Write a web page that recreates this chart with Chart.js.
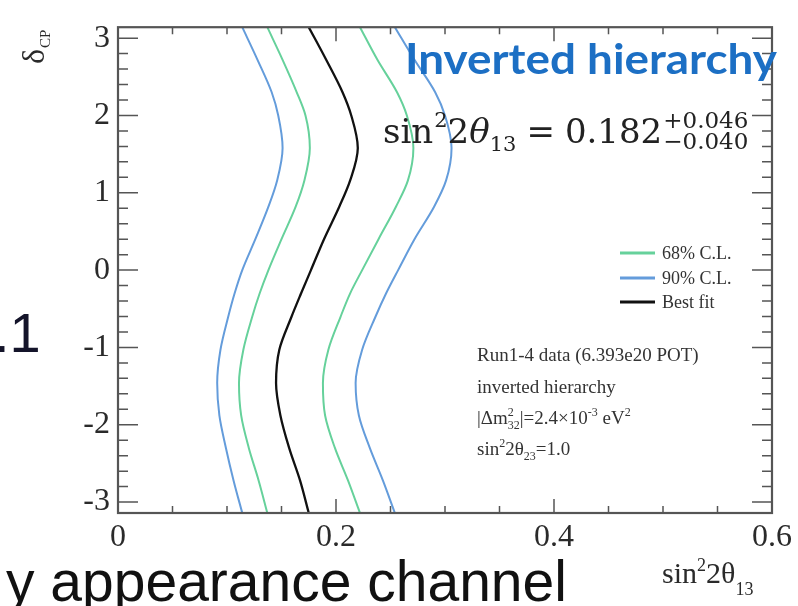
<!DOCTYPE html>
<html>
<head>
<meta charset="utf-8">
<script src="https://cdn.jsdelivr.net/npm/chart.js@4.4.0/dist/chart.umd.min.js"></script>
<style>
  html, body { margin: 0; padding: 0; background: #fff; overflow: hidden; }
  #wrap { position: relative; width: 798px; height: 606px; }
</style>
</head>
<body>
<div id="wrap"><canvas id="c" width="798" height="606"></canvas></div>
<script>
// delta_CP grid (radians) shared by all contour branches
const deltaCP  = [-3.1416, -2.72, -2.30, -1.88, -1.46, -1.03, -0.61, -0.30, 0, 0.40, 0.82, 1.16, 1.58, 2.00, 2.30, 2.72, 3.1416];
// sin^2(2theta13) along each contour
const cl90Low  = [0.114, 0.106, 0.099, 0.093, 0.091, 0.094, 0.101, 0.107, 0.114, 0.126, 0.138, 0.146, 0.151, 0.147, 0.141, 0.128, 0.114];
const cl68Low  = [0.137, 0.129, 0.120, 0.113, 0.111, 0.115, 0.123, 0.130, 0.138, 0.150, 0.163, 0.171, 0.176, 0.172, 0.164, 0.151, 0.137];
const bestFit  = [0.175, 0.167, 0.157, 0.149, 0.145, 0.148, 0.159, 0.168, 0.177, 0.189, 0.203, 0.213, 0.220, 0.214, 0.206, 0.191, 0.175];
const cl68High = [0.222, 0.211, 0.199, 0.190, 0.188, 0.193, 0.204, 0.213, 0.224, 0.239, 0.255, 0.266, 0.271, 0.265, 0.256, 0.238, 0.222];
const cl90High = [0.254, 0.243, 0.231, 0.221, 0.218, 0.224, 0.236, 0.246, 0.257, 0.272, 0.290, 0.301, 0.306, 0.300, 0.291, 0.272, 0.254];

const xTickValues = [0, 0.2, 0.4, 0.6];
const yTickValues = [-3, -2, -1, 0, 1, 2, 3];
const seriesLabels = ['68% C.L.', '90% C.L.', 'Best fit'];
const seriesColors = ['#66d19b', '#649cdb', '#111111'];

const SERIF = '"Liberation Serif", "Times New Roman", serif';
const SANS = '"Liberation Sans", Arial, sans-serif';
const MATH = '"DejaVu Serif", serif';

function branch(xs) {
  return xs.map((v, i) => ({ x: v, y: deltaCP[i] }));
}

function contour(label, xs, color, width) {
  return {
    label: label,
    data: branch(xs),
    showLine: true,
    borderColor: color,
    borderWidth: width,
    pointRadius: 0,
    cubicInterpolationMode: 'monotone',
    fill: false
  };
}

// Draws a run of text pieces one after another (with super/subscript offsets)
function drawSeq(ctx, x, y, parts, color) {
  ctx.fillStyle = color;
  ctx.textAlign = 'left';
  ctx.textBaseline = 'alphabetic';
  let cx = x;
  parts.forEach(p => {
    ctx.font = p.font;
    cx += (p.gap || 0);
    ctx.fillText(p.t, cx, y + (p.dy || 0));
    if (!p.stay) cx += ctx.measureText(p.t).width;
  });
  return cx;
}

const decor = {
  id: 'decor',
  afterDraw(chart) {
    const { ctx, chartArea: a } = chart;
    const xs = chart.scales.x, ys = chart.scales.y;
    ctx.save();

    // minor / major tick marks on all four sides, pointing inward
    ctx.strokeStyle = '#555';
    ctx.lineWidth = 1.5;
    ctx.beginPath();
    const xMinorStep = 0.05;
    for (let i = 0; i <= 12; i++) {
      const px = xs.getPixelForValue(i * xMinorStep);
      const L = (i % 4 === 0) ? 14 : 7;
      ctx.moveTo(px, a.bottom); ctx.lineTo(px, a.bottom - L);
      ctx.moveTo(px, a.top);    ctx.lineTo(px, a.top + L);
    }
    const yMinorStep = 0.2;
    for (let i = -15; i <= 15; i++) {
      const py = ys.getPixelForValue(i * yMinorStep);
      const L = (i % 5 === 0) ? 20 : 10;
      ctx.moveTo(a.left, py);  ctx.lineTo(a.left + L, py);
      ctx.moveTo(a.right, py); ctx.lineTo(a.right - L, py);
    }
    ctx.stroke();

    // frame
    ctx.lineWidth = 2.2;
    ctx.strokeRect(a.left, a.top, a.right - a.left, a.bottom - a.top);

    // legend
    const legY = [253, 278, 302];
    seriesLabels.forEach((lab, i) => {
      ctx.strokeStyle = seriesColors[i];
      ctx.lineWidth = 3;
      ctx.beginPath();
      ctx.moveTo(620, legY[i]); ctx.lineTo(655, legY[i]);
      ctx.stroke();
      ctx.font = '18px ' + SERIF;
      ctx.fillStyle = '#333';
      ctx.textAlign = 'left';
      ctx.textBaseline = 'middle';
      ctx.fillText(lab, 662, legY[i] + 1);
    });

    // run information box
    const f = '19px ' + SERIF, fs = '12px ' + SERIF;
    drawSeq(ctx, 477, 361, [{ t: 'Run1-4 data (6.393e20 POT)', font: f }], '#333');
    drawSeq(ctx, 477, 393, [{ t: 'inverted hierarchy', font: f }], '#333');
    drawSeq(ctx, 477, 424, [
      { t: '|\u0394m', font: f },
      { t: '2', font: fs, dy: -8, stay: true },
      { t: '32', font: fs, dy: 5 },
      { t: '|=2.4\u00d710', font: f },
      { t: '-3', font: fs, dy: -8 },
      { t: ' eV', font: f },
      { t: '2', font: fs, dy: -8 }
    ], '#333');
    drawSeq(ctx, 477, 455, [
      { t: 'sin', font: f },
      { t: '2', font: fs, dy: -8 },
      { t: '2\u03b8', font: f },
      { t: '23', font: fs, dy: 5 },
      { t: '=1.0', font: f }
    ], '#333');

    // hierarchy heading, fitted to its box width
    ctx.font = 'bold 42px Lato, "Open Sans", sans-serif';
    const hw = ctx.measureText('Inverted hierarchy').width;
    ctx.save();
    ctx.translate(405, 74);
    ctx.scale(372 / hw, 1);
    ctx.fillStyle = '#1c6fc4';
    ctx.textAlign = 'left';
    ctx.textBaseline = 'alphabetic';
    ctx.fillText('Inverted hierarchy', 0, 0);
    ctx.restore();

    // fitted value with asymmetric errors
    const M = '34px ' + MATH, Ms = '21px ' + MATH, Mi = 'italic 34px ' + MATH;
    const endX = drawSeq(ctx, 383, 143, [
      { t: 'sin', font: M },
      { t: '2', font: Ms, dy: -16, gap: 1 },
      { t: '2', font: M },
      { t: '\u03b8', font: Mi },
      { t: '13', font: Ms, dy: 8 },
      { t: '=', font: M, gap: 10 },
      { t: '0.182', font: M, gap: 10 }
    ], '#222');
    drawSeq(ctx, endX + 1, 128, [{ t: '+0.046', font: '23px ' + MATH }], '#222');
    drawSeq(ctx, endX + 1, 149, [{ t: '\u22120.040', font: '23px ' + MATH }], '#222');

    // axis titles
    drawSeq(ctx, 662, 583, [
      { t: 'sin', font: '30px ' + SERIF },
      { t: '2', font: '18px ' + SERIF, dy: -12 },
      { t: '2\u03b8', font: '30px ' + SERIF },
      { t: '13', font: '18px ' + SERIF, dy: 12 }
    ], '#2a2a2a');
    ctx.save();
    ctx.translate(44, 64);
    ctx.rotate(-Math.PI / 2);
    drawSeq(ctx, 0, 0, [
      { t: '\u03b4', font: '32px ' + SERIF },
      { t: 'CP', font: '15px ' + SERIF, dy: 6, gap: 1 }
    ], '#2a2a2a');
    ctx.restore();

    // surrounding slide text
    ctx.fillStyle = '#14142a';
    ctx.font = '56px ' + SANS;
    ctx.textAlign = 'left';
    ctx.textBaseline = 'alphabetic';
    ctx.fillText('.1', -6, 352);
    ctx.fillStyle = '#111';
    ctx.font = '57px ' + SANS;
    ctx.fillText('y appearance channel', 6, 601);

    ctx.restore();
  }
};

new Chart(document.getElementById('c'), {
  type: 'scatter',
  data: {
    datasets: [
      contour(seriesLabels[1], cl90Low,  seriesColors[1], 2),
      contour(seriesLabels[1], cl90High, seriesColors[1], 2),
      contour(seriesLabels[0], cl68Low,  seriesColors[0], 2),
      contour(seriesLabels[0], cl68High, seriesColors[0], 2),
      contour(seriesLabels[2], bestFit,  seriesColors[2], 2.3)
    ]
  },
  options: {
    indexAxis: 'y',
    responsive: false,
    animation: false,
    devicePixelRatio: 1,
    layout: { padding: { top: 17, right: 26, left: 0, bottom: 0 } },
    plugins: { legend: { display: false }, tooltip: { enabled: false } },
    scales: {
      x: {
        type: 'linear',
        position: 'bottom',
        min: 0, max: 0.6,
        afterBuildTicks: s => { s.ticks = xTickValues.map(v => ({ value: v })); },
        afterFit: s => { s.height = 93; },
        grid: { display: false, drawTicks: false },
        border: { display: false },
        ticks: { padding: 5, color: '#2a2a2a', font: { family: SERIF, size: 32 } }
      },
      y: {
        type: 'linear',
        position: 'left',
        min: -Math.PI, max: Math.PI,
        afterBuildTicks: s => { s.ticks = yTickValues.map(v => ({ value: v })); },
        afterFit: s => { s.width = 118; },
        grid: { display: false, drawTicks: false },
        border: { display: false },
        ticks: { padding: 8, color: '#2a2a2a', font: { family: SERIF, size: 32 } }
      }
    }
  },
  plugins: [decor]
});
</script>
</body>
</html>
